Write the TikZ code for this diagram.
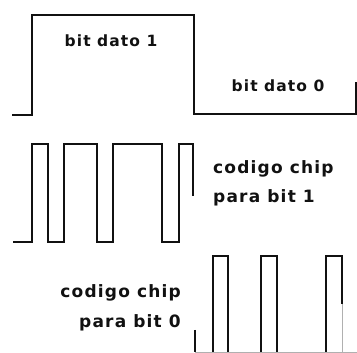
\documentclass[tikz,border=0pt]{standalone}
\usepackage{fontspec}
\usepackage{tikz}
\newfontfamily\chipfont[LetterSpace=7]{DejaVu Sans}
\definecolor{wvblack}{HTML}{111111}
\definecolor{wvgrey}{HTML}{B0B0B0}

\begin{document}
\begin{tikzpicture}[x=1pt,y=-1pt,
    wave/.style={draw=wvblack,line width=1.8pt,line join=miter},
    faint/.style={draw=wvgrey,line width=1pt},
    lbl/.style={font=\chipfont\bfseries\fontsize{15.5}{18}\selectfont,inner sep=0pt,text=wvblack},
    biglbl/.style={lbl,font=\chipfont\bfseries\fontsize{17}{20}\selectfont}]
  \useasboundingbox (0,0) rectangle (357,353);
  % data bits: one then zero
  \draw[wave] (12,115) -- (32,115) -- (32,15) -- (194,15) -- (194,114) -- (356,114) -- (356,82);
  % chip sequence for bit 1
  \draw[wave] (13,242) -- (32,242) -- (32,144) -- (48,144) -- (48,242) -- (64,242)
    -- (64,144) -- (97,144) -- (97,242) -- (113,242) -- (113,144) -- (162,144)
    -- (162,242) -- (179,242) -- (179,144) -- (193,144) -- (193,196);
  % chip sequence for bit 0
  \draw[faint] (195,352.5) -- (357,352.5);
  \draw[wave] (195,330) -- (195,352);
  \draw[wave] (213,352) |- (228,256) -- (228,352);
  \draw[wave] (261,352) |- (277,256) -- (277,352);
  \draw[wave] (326,352) |- (342,256) -- (342,304);
  \draw[faint] (342,304) -- (342,352);
  % labels
  \foreach \n/\x/\y/\pos/\lab in {
    dato1/111/47/base/{bit dato 1},
    dato0/278/92/base/{bit dato 0}}
    {\node[lbl,anchor=\pos] (\n) at (\x,\y) {\lab};}
  \foreach \n/\x/\y/\pos/\lab in {
    chip1/213/174/base west/{codigo chip},
    para1/213/203/base west/{para bit 1},
    chip0/181/298/base east/{codigo chip},
    para0/181/327/base east/{para bit 0}}
    {\node[biglbl,anchor=\pos] (\n) at (\x,\y) {\lab};}
\end{tikzpicture}
\end{document}
